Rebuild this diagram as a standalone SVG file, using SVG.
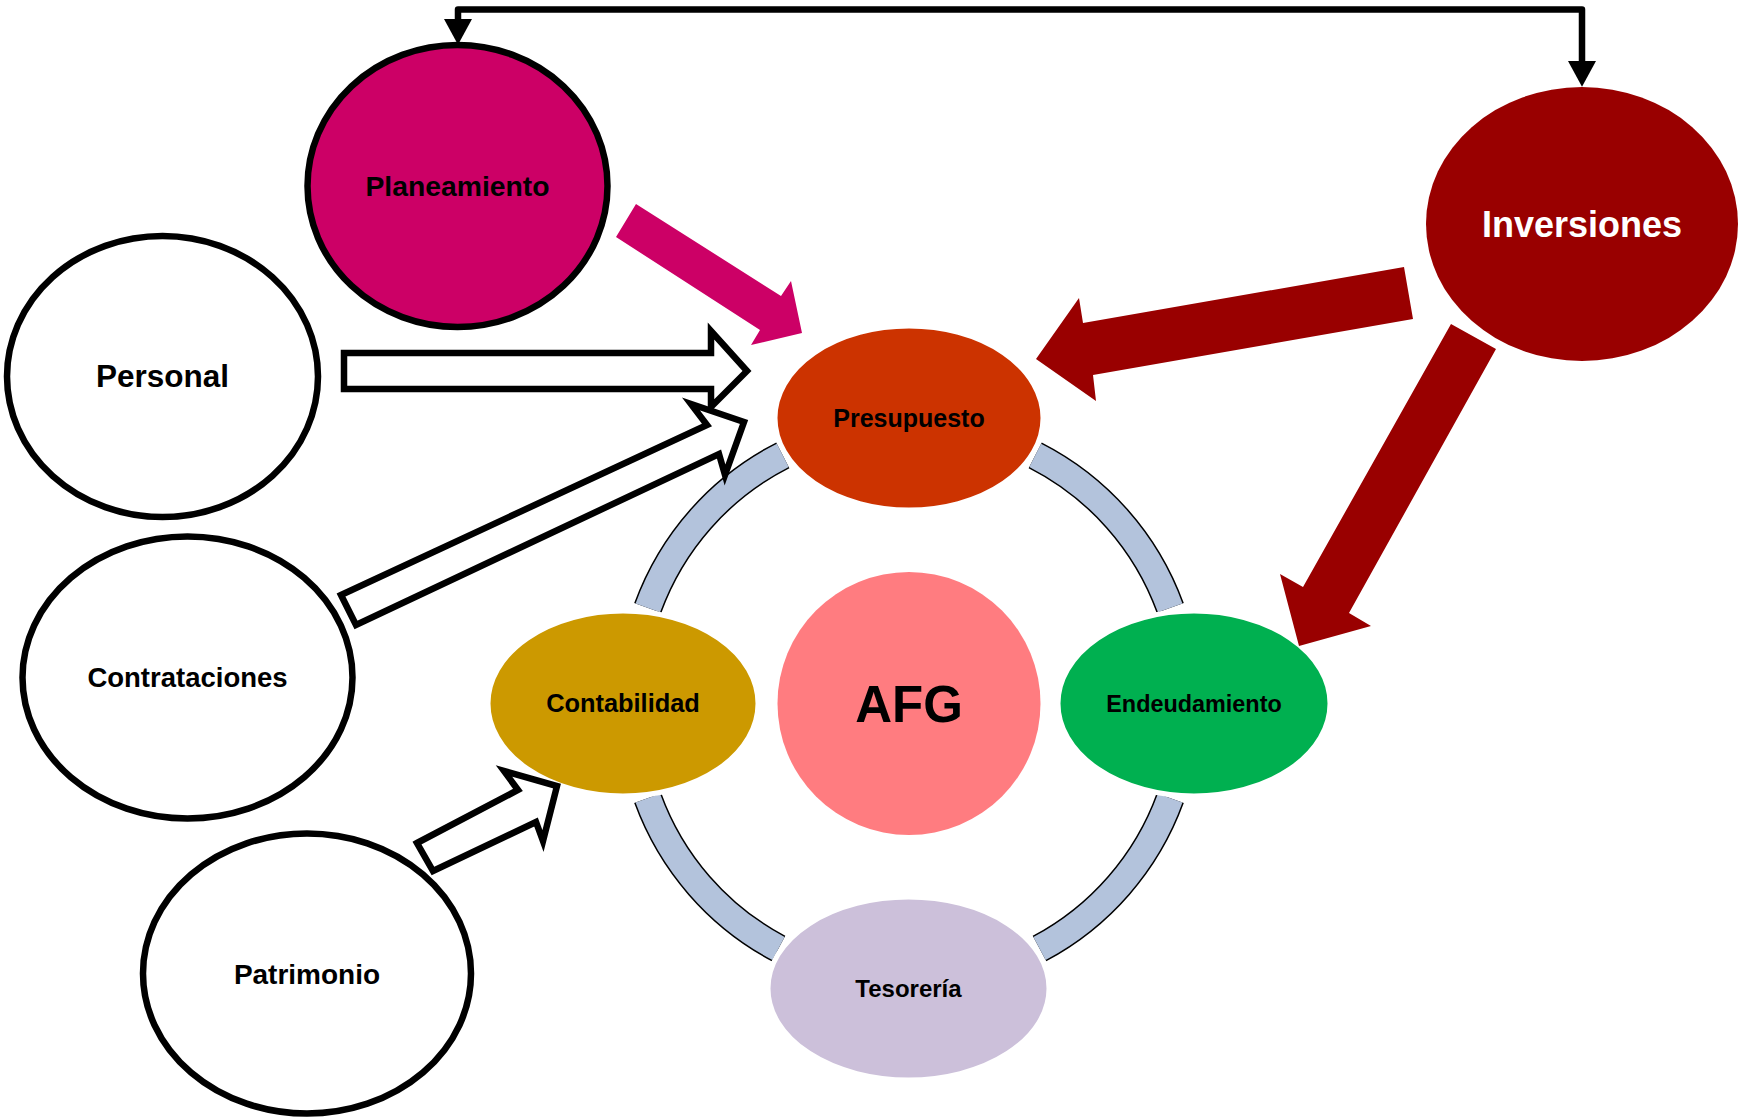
<svg xmlns="http://www.w3.org/2000/svg" width="1738" height="1117" viewBox="0 0 1738 1117">
<defs>
<style>
.lbl{font-family:"Liberation Sans",Arial,sans-serif;font-weight:bold;text-anchor:middle;fill:#000}
.ringo{fill:none;stroke:#000;stroke-width:29;stroke-linecap:butt}
.ringi{fill:none;stroke:#B3C3DC;stroke-width:26;stroke-linecap:butt}
.outline{fill:#fff;stroke:#000;stroke-width:6.5}
.cyc{stroke:#fff;stroke-width:5}
.blk{fill:#fff;stroke:#000;stroke-width:6.5;stroke-linejoin:miter}
</style>
<marker id="ah" markerUnits="userSpaceOnUse" markerWidth="26" markerHeight="28" refX="0" refY="13" orient="auto-start-reverse" viewBox="0 0 24 26">
<path d="M0,0 L24,13 L0,26 Z" fill="#000"/>
</marker>
</defs>
<rect width="1738" height="1117" fill="#fff"/>

<g id="ring">
<path class="ringo" d="M1035.2,455.3 A278,278 0 0 1 1170.2,607.9"/>
<path class="ringi" d="M1035.2,455.3 A278,278 0 0 1 1170.2,607.9"/>
<path class="ringo" d="M1170.2,798.1 A278,278 0 0 1 1039.5,948.5"/>
<path class="ringi" d="M1170.2,798.1 A278,278 0 0 1 1039.5,948.5"/>
<path class="ringo" d="M778.5,948.5 A278,278 0 0 1 647.8,798.1"/>
<path class="ringi" d="M778.5,948.5 A278,278 0 0 1 647.8,798.1"/>
<path class="ringo" d="M647.8,607.9 A278,278 0 0 1 782.8,455.3"/>
<path class="ringi" d="M647.8,607.9 A278,278 0 0 1 782.8,455.3"/>
</g>

<g id="node-afg">
<circle cx="909" cy="703.5" r="131.5" fill="#FF7C80"/>
<text class="lbl" x="909" y="722" font-size="51">AFG</text>
</g>
<g id="node-presupuesto">
<ellipse class="cyc" cx="909" cy="418" rx="134" ry="92" fill="#CC3300"/>
<text class="lbl" x="909" y="427" font-size="25">Presupuesto</text>
</g>
<g id="node-contabilidad">
<ellipse class="cyc" cx="623" cy="703.5" rx="135" ry="92.5" fill="#CC9900"/>
<text class="lbl" x="623" y="712" font-size="25.4">Contabilidad</text>
</g>
<g id="node-endeudamiento">
<ellipse class="cyc" cx="1194" cy="703.5" rx="136" ry="92.5" fill="#00B050"/>
<text class="lbl" x="1194" y="712" font-size="23.4">Endeudamiento</text>
</g>
<g id="node-tesoreria">
<ellipse class="cyc" cx="908.5" cy="988.5" rx="140.5" ry="91.5" fill="#CCC0DA"/>
<text class="lbl" x="908.5" y="997" font-size="24">Tesorería</text>
</g>

<g id="node-planeamiento">
<ellipse cx="457.5" cy="186" rx="150" ry="141" fill="#CC0066" stroke="#000" stroke-width="6.5"/>
<text class="lbl" x="457.5" y="196" font-size="28.3">Planeamiento</text>
</g>
<g id="node-inversiones">
<ellipse cx="1582" cy="224" rx="156" ry="137" fill="#990000"/>
<text class="lbl" x="1582" y="236.5" font-size="36" style="fill:#fff">Inversiones</text>
</g>
<g id="node-personal">
<ellipse class="outline" cx="162.5" cy="376.5" rx="155.5" ry="140.5"/>
<text class="lbl" x="162.5" y="387" font-size="31.5">Personal</text>
</g>
<g id="node-contrataciones">
<ellipse class="outline" cx="187.5" cy="677.5" rx="165" ry="141"/>
<text class="lbl" x="187.5" y="687" font-size="27.5">Contrataciones</text>
</g>
<g id="node-patrimonio">
<ellipse class="outline" cx="307" cy="973.5" rx="164" ry="140"/>
<text class="lbl" x="307" y="983.5" font-size="28">Patrimonio</text>
</g>

<g id="connectors">
<path d="M458,19 V9.5 H1582 V61" fill="none" stroke="#000" stroke-width="6.5" stroke-linejoin="round" marker-start="url(#ah)" marker-end="url(#ah)"/>
<polygon points="636,204 781,296 791,281 802,333 751,345 760,330 616,237" fill="#CC0066"/>
<polygon points="1404,267 1083,323 1079,298 1036,359 1096,401 1093,375 1413,319" fill="#990000"/>
<polygon points="1451,324 1303,587 1280,574 1299,646 1371,626 1349,613 1496,349" fill="#990000"/>
<polygon class="blk" points="344,353 711,353 711,331 747,371 711,407 711,389 344,389"/>
<polygon class="blk" points="341,595 707,425 691,404 744,422 725,475 719,454 356,625"/>
<polygon class="blk" points="417,843 518,790 504,771 557,786 543,841 536,822 433,871"/>
</g>
</svg>
